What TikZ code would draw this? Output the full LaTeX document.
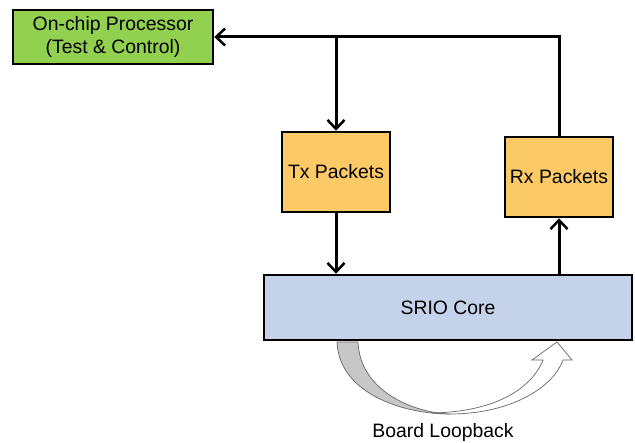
\documentclass[tikz,border=0pt]{standalone}
\usepackage{fontspec}
\setmainfont{Liberation Sans}
\usetikzlibrary{arrows.meta}
\definecolor{procgreen}{RGB}{146,208,80}
\definecolor{pktorange}{RGB}{251,202,102}
\definecolor{coreblue}{RGB}{197,211,234}
\begin{document}
\begin{tikzpicture}[x=1pt,y=-1pt,
  box/.style={draw=black,line width=2.5pt,minimum width=#1,align=center,inner sep=0pt,
    font=\fontsize{19.4}{23}\selectfont},
  conn/.style={line width=3pt,-{Straight Barb[length=9pt,width=17pt,line width=2.5pt]}},
  lbl/.style={font=\fontsize{19.4}{23}\selectfont}]
\useasboundingbox (0,0) rectangle (635,443);
\node[box=200pt,fill=procgreen,minimum height=54pt] (proc) at (113,37) {On-chip Processor\\(Test \& Control)};
\node[box=108pt,fill=pktorange,minimum height=80pt] (tx) at (336,172) {Tx Packets};
\node[box=108pt,fill=pktorange,minimum height=80pt] (rx) at (559,177) {Rx Packets};
\node[box=368pt,fill=coreblue,minimum height=65pt] (core) at (448,307.5) {SRIO Core};
\coordinate (split) at (tx.north |- proc.east);
\draw[conn] (rx.north) |- (proc.east);
\draw[conn] (split) -- (tx.north);
\draw[conn] (tx.south) -- (tx.south |- core.north);
\draw[conn] (rx.south |- core.north) -- (rx.south);
% board loopback curved block arrow
\draw[draw=black!60,line width=0.7pt,fill=black!22]
  (337,342) .. controls (339,392) and (400,414) .. (450,414)
  .. controls (415,413) and (360,392) .. (358,342) -- cycle;
\draw[draw=black!60,line width=0.7pt,fill=white]
  (450,414) .. controls (510,414) and (553,388) .. (563,360)
  -- (572,360) -- (557,342) -- (532,360) -- (543,360)
  .. controls (530,392) and (490,412) .. (432,413) -- cycle;
\node[lbl,anchor=base] (loop) at (443,437.5) {Board Loopback};
\end{tikzpicture}
\end{document}
